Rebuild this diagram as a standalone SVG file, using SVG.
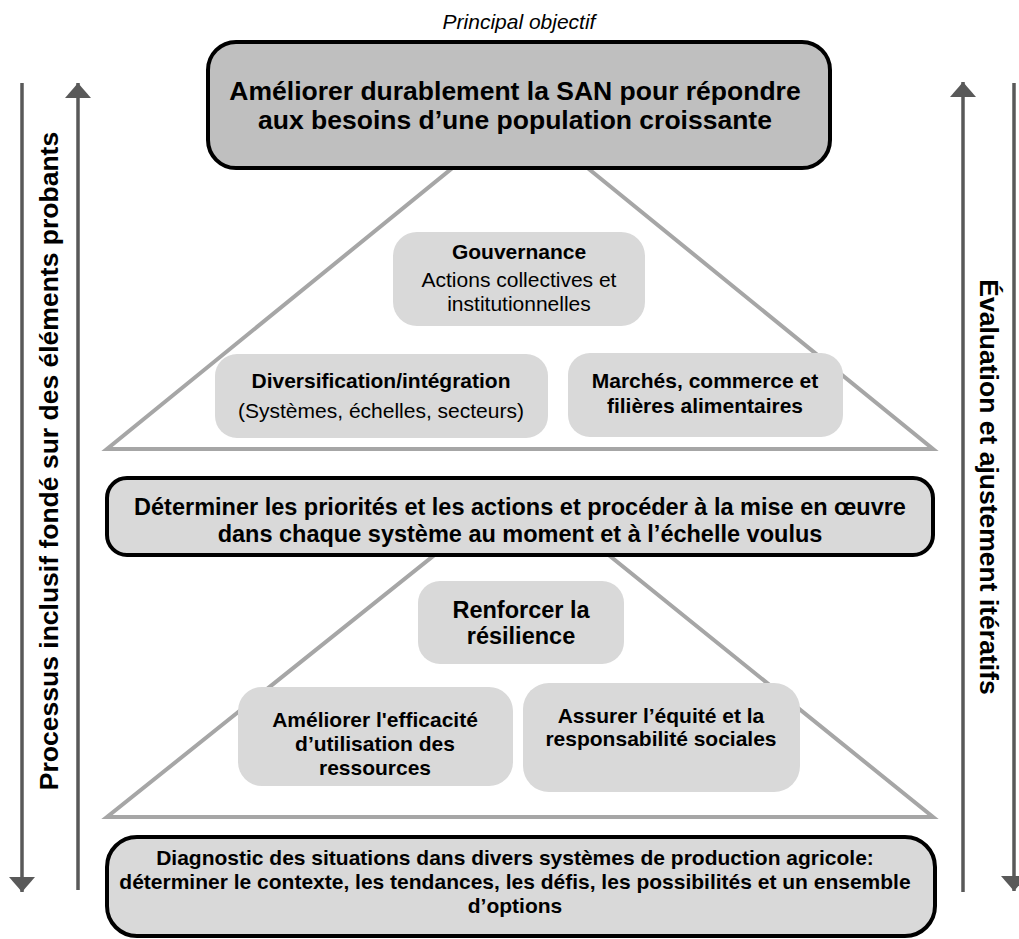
<svg xmlns="http://www.w3.org/2000/svg" width="1019" height="939" viewBox="0 0 1019 939">
  <style>
    text { font-family: "Liberation Sans", Arial, sans-serif; fill: #000; text-anchor: middle; }
    .b { font-weight: bold; }
    .tri { fill: #fff; stroke: #a6a6a6; stroke-width: 4; stroke-linejoin: miter; }
    .main { stroke: #000; stroke-width: 4; }
    .top { fill: #bfbfbf; }
    .lvl { fill: #d9d9d9; }
    .node { fill: #d9d9d9; stroke: none; }
    .arr { stroke: #595959; stroke-width: 3.5; fill: none; }
  </style>
  <defs>
    <marker id="head" viewBox="0 0 15 26" refX="15" refY="13" markerWidth="15" markerHeight="26" markerUnits="userSpaceOnUse" orient="auto">
      <path d="M0,0 L15,13 L0,26 Z" fill="#595959"/>
    </marker>
  </defs>
  <rect width="1019" height="939" fill="#fff"/>

  <g id="pyramids">
    <polygon class="tri" points="520,113 107,449 933,449"/>
    <polygon class="tri" points="522,485 107,817 933,817"/>
  </g>

  <g id="connectors">
    <line class="arr" x1="22" y1="83" x2="22" y2="892" marker-end="url(#head)"/>
    <line class="arr" x1="78" y1="890" x2="78" y2="83" marker-end="url(#head)"/>
    <line class="arr" x1="963" y1="892" x2="963" y2="82" marker-end="url(#head)"/>
    <line class="arr" x1="1014" y1="83" x2="1014" y2="891" marker-end="url(#head)"/>
  </g>

  <g id="label-left">
    <text class="b" font-size="26.5" transform="translate(58,461) rotate(-90)">Processus inclusif fondé sur des éléments probants</text>
  </g>
  <g id="label-right">
    <text class="b" font-size="26.5" transform="translate(980,487) rotate(90)">Évaluation et ajustement itératifs</text>
  </g>

  <g id="caption">
    <text x="519" y="29" font-size="21" font-style="italic">Principal objectif</text>
  </g>

  <g id="objectif">
    <rect class="main top" x="208" y="42" width="622" height="126" rx="28"/>
    <text class="b" x="515" y="100" font-size="26.5">Améliorer durablement la SAN pour répondre</text>
    <text class="b" x="515" y="129" font-size="26.5">aux besoins d’une population croissante</text>
  </g>

  <g id="gouvernance">
    <rect class="node" x="393" y="232" width="252" height="94" rx="24"/>
    <text class="b" x="519" y="259" font-size="21">Gouvernance</text>
    <text x="519" y="287" font-size="21">Actions collectives et</text>
    <text x="519" y="311" font-size="21">institutionnelles</text>
  </g>

  <g id="diversification">
    <rect class="node" x="215" y="354" width="333" height="84" rx="22"/>
    <text class="b" x="381" y="388" font-size="21">Diversification/intégration</text>
    <text x="381" y="418" font-size="21">(Systèmes, échelles, secteurs)</text>
  </g>

  <g id="marches">
    <rect class="node" x="568" y="353" width="275" height="84" rx="22"/>
    <text class="b" x="705" y="388" font-size="21">Marchés, commerce et</text>
    <text class="b" x="705" y="413" font-size="21">filières alimentaires</text>
  </g>

  <g id="determiner">
    <rect class="main lvl" x="107" y="478" width="826" height="77" rx="20"/>
    <text class="b" x="520" y="515" font-size="23.5">Déterminer les priorités et les actions et procéder à la mise en œuvre</text>
    <text class="b" x="520" y="542" font-size="23.5">dans chaque système au moment et à l’échelle voulus</text>
  </g>

  <g id="resilience">
    <rect class="node" x="418" y="581" width="206" height="83" rx="22"/>
    <text class="b" x="521" y="618" font-size="23.5">Renforcer la</text>
    <text class="b" x="521" y="644" font-size="23.5">résilience</text>
  </g>

  <g id="efficacite">
    <rect class="node" x="238" y="687" width="275" height="99" rx="24"/>
    <text class="b" x="375" y="727" font-size="21">Améliorer l'efficacité</text>
    <text class="b" x="375" y="751" font-size="21">d’utilisation des</text>
    <text class="b" x="375" y="775" font-size="21">ressources</text>
  </g>

  <g id="equite">
    <rect class="node" x="523" y="683" width="277" height="109" rx="26"/>
    <text class="b" x="661" y="723" font-size="21">Assurer l’équité et la</text>
    <text class="b" x="661" y="746" font-size="21">responsabilité sociales</text>
  </g>

  <g id="diagnostic">
    <rect class="main lvl" x="107" y="837" width="828" height="99" rx="30"/>
    <text class="b" x="515" y="865" font-size="21">Diagnostic des situations dans divers systèmes de production agricole:</text>
    <text class="b" x="515" y="889" font-size="21">déterminer le contexte, les tendances, les défis, les possibilités et un ensemble</text>
    <text class="b" x="515" y="913" font-size="21">d’options</text>
  </g>
</svg>
